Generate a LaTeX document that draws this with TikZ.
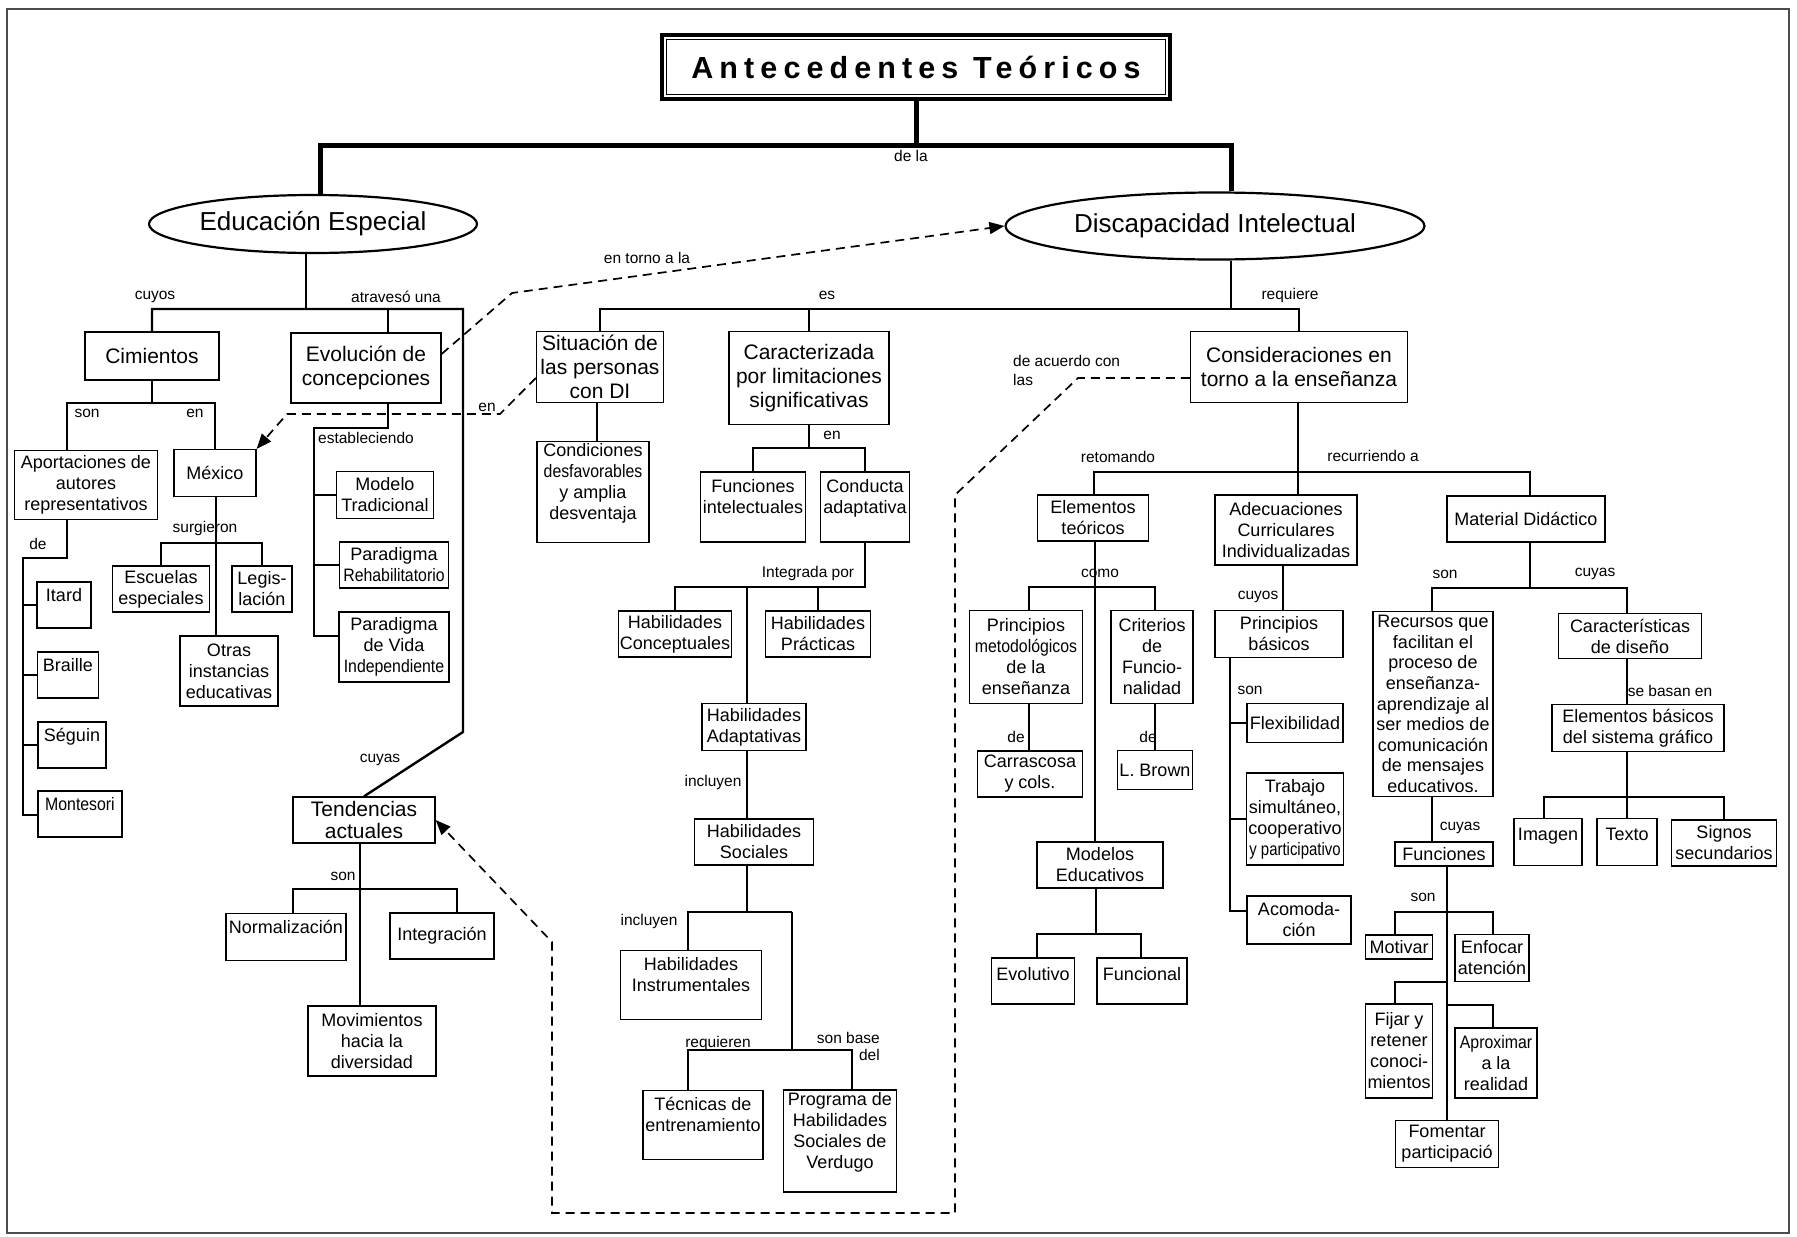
\documentclass[tikz,border=0pt]{standalone}
\usepackage{fontspec}
\setmainfont{Liberation Sans}
\newfontfamily\titlefont[LetterSpace=20]{Liberation Sans}
\newfontfamily\narrowfont[FakeStretch=0.88]{Liberation Sans}
\newfontfamily\narrowerfont[FakeStretch=0.83]{Liberation Sans}
\usetikzlibrary{arrows.meta,shapes.geometric}
\newcommand{\padline}{\\\mbox{}}
\newcommand{\padlinesm}{\\[-6pt]\mbox{}}
\begin{document}
\begin{tikzpicture}[x=1pt,y=-1pt,
  cbox/.style={draw, line width=1.3pt, inner sep=2pt, align=center, font=\fontsize{18}{21}\selectfont},
  bbox/.style={cbox, font=\fontsize{21}{24}\selectfont},
  ell/.style={draw, ellipse, line width=2.2pt, inner sep=0pt, font=\fontsize{26}{30}\selectfont},
  conn/.style={line width=2.4pt},
  thk/.style={line width=5pt},
  lbl/.style={inner sep=0pt, font=\fontsize{15.5}{18}\selectfont},
  dsh/.style={line width=1.7pt, dash pattern=on 9pt off 6pt},
  arr/.style={-{Triangle[length=15pt,width=12pt]}}]
\useasboundingbox (0,0) rectangle (1797,1237);
\draw[black!70, line width=1.2pt] (7,9) rectangle (1789,1233);

% title and main ellipses
\node[draw, line width=3.5pt, minimum width=508pt, minimum height=64pt, font=\titlefont\bfseries\fontsize{30.5}{33}\selectfont] (title) at (916,67) {Antecedentes Teóricos};
\draw[line width=1.3pt] ([shift={(6pt,-6pt)}]title.north west) rectangle ([shift={(-6pt,6pt)}]title.south east);
\node[ell, minimum width=328pt, minimum height=58pt] (es) at (313,224) {Educación Especial};
\node[ell, minimum width=419pt, minimum height=67pt] (di) at (1215,226) {Discapacidad Intelectual};

% upper boxes
\node[bbox, minimum width=134pt, minimum height=48pt] (cim) at (152,356) {Cimientos};
\node[bbox, minimum width=150pt, minimum height=70pt] (evo) at (366,368) {Evolución de\\concepciones};
\node[bbox, minimum width=127pt, minimum height=71pt] (sit) at (600,367) {Situación de\\las personas\\con DI};
\node[bbox, minimum width=160pt, minimum height=93pt] (car) at (809,378) {Caracterizada\\por limitaciones\\significativas};
\node[bbox, minimum width=217pt, minimum height=71pt] (cons) at (1299,367) {Consideraciones en\\torno a la enseñanza};
\node[bbox, minimum width=142pt, minimum height=46pt, inner sep=1pt, font=\fontsize{21}{22}\selectfont] (tend) at (364,820) {Tendencias\\actuales};

% left column
\node[cbox, minimum width=143pt, minimum height=69pt] (apo) at (86,485) {Aportaciones de\\autores\\representativos};
\node[cbox, minimum width=82pt, minimum height=47pt] (mex) at (215,473) {México};
\node[cbox, minimum width=54pt, minimum height=46pt] (itard) at (64,605) {Itard\padline};
\node[cbox, minimum width=61pt, minimum height=46pt] (braille) at (68,675) {Braille\padline};
\node[cbox, minimum width=68pt, minimum height=46pt] (seguin) at (72,745) {Séguin\padline};
\node[cbox, minimum width=84pt, minimum height=46pt] (monte) at (80,814) {{\narrowfont Montesori}\padline};
\node[cbox, minimum width=97pt, minimum height=46pt] (esc) at (161,589) {Escuelas\\especiales};
\node[cbox, minimum width=60pt, minimum height=46pt] (legis) at (262,589) {Legis-\\lación};
\node[cbox, minimum width=98pt, minimum height=70pt] (otras) at (229,671) {Otras\\instancias\\educativas};
\node[cbox, minimum width=97pt, minimum height=47pt] (modtrad) at (385,495) {Modelo\\Tradicional};
\node[cbox, minimum width=109pt, minimum height=46pt] (parreh) at (394,565) {Paradigma\\{\narrowfont Rehabilitatorio}};
\node[cbox, minimum width=110pt, minimum height=70pt] (parvida) at (394,647) {Paradigma\\de Vida\\{\narrowfont Independiente}};
\node[cbox, minimum width=120pt, minimum height=47pt] (norm) at (286,937) {Normalización\padline};
\node[cbox, minimum width=104pt, minimum height=46pt] (integ) at (442,936) {Integración};
\node[cbox, minimum width=128pt, minimum height=70pt] (movim) at (372,1041) {Movimientos\\hacia la\\diversidad};

% middle column
\node[cbox, minimum width=112pt, minimum height=100pt] (cond) at (593,492) {Condiciones\\{\narrowfont desfavorables}\\y amplia\\desventaja\padline};
\node[cbox, minimum width=105pt, minimum height=70pt] (funint) at (753,507) {Funciones\\intelectuales\padline};
\node[cbox, minimum width=89pt, minimum height=70pt] (condad) at (865,507) {Conducta\\adaptativa\padline};
\node[cbox, minimum width=113pt, minimum height=46pt, inner sep=1pt] (habcon) at (675,634) {Habilidades\\Conceptuales};
\node[cbox, minimum width=105pt, minimum height=46pt] (habprac) at (818,634) {Habilidades\\Prácticas};
\node[cbox, minimum width=104pt, minimum height=47pt] (habad) at (754,727) {Habilidades\\Adaptativas};
\node[cbox, minimum width=119pt, minimum height=46pt] (habsoc) at (754,842) {Habilidades\\Sociales};
\node[cbox, minimum width=141pt, minimum height=69pt] (habins) at (691,985) {Habilidades\\Instrumentales\padline};
\node[cbox, minimum width=120pt, minimum height=69pt] (tecn) at (703,1125) {Técnicas de\\entrenamiento\padline};
\node[cbox, minimum width=113pt, minimum height=102pt, inner sep=1pt] (prog) at (840,1141) {Programa de\\Habilidades\\Sociales de\\Verdugo\padline};

% right part
\node[cbox, minimum width=111pt, minimum height=46pt] (elem) at (1093,518) {Elementos\\teóricos};
\node[cbox, minimum width=142pt, minimum height=70pt] (adec) at (1286,530) {Adecuaciones\\Curriculares\\Individualizadas};
\node[cbox, minimum width=158pt, minimum height=46pt] (matdid) at (1526,519) {Material Didáctico};
\node[cbox, minimum width=113pt, minimum height=93pt] (pmet) at (1026,657) {Principios\\{\narrowfont metodológicos}\\de la\\enseñanza};
\node[cbox, minimum width=82pt, minimum height=93pt] (crit) at (1152,657) {Criterios\\de\\Funcio-\\nalidad};
\node[cbox, minimum width=105pt, minimum height=46pt] (carr) at (1030,774) {Carrascosa\\y cols.};
\node[cbox, minimum width=75pt, minimum height=39pt] (brown) at (1155,770) {L. Brown};
\node[cbox, minimum width=126pt, minimum height=46pt] (modedu) at (1100,865) {Modelos\\Educativos};
\node[cbox, minimum width=83pt, minimum height=46pt] (evol) at (1033,981) {Evolutivo\padlinesm};
\node[cbox, minimum width=90pt, minimum height=46pt] (func) at (1142,981) {Funcional\padlinesm};
\node[cbox, minimum width=128pt, minimum height=47pt] (pbas) at (1279,634) {Principios\\básicos};
\node[cbox, minimum width=96pt, minimum height=39pt] (flex) at (1295,723) {Flexibilidad};
\node[cbox, minimum width=97pt, minimum height=92pt, inner sep=1pt] (trab) at (1295,819) {Trabajo\\simultáneo,\\cooperativo\\{\narrowerfont y participativo}};
\node[cbox, minimum width=104pt, minimum height=48pt] (acom) at (1299,920) {Acomoda-\\ción};
\node[cbox, minimum width=120pt, minimum height=185pt, inner sep=0pt, font=\fontsize{18}{20.6}\selectfont] (recur) at (1433,704) {Recursos que\\facilitan el\\proceso de\\enseñanza-\\aprendizaje al\\ser medios de\\comunicación\\de mensajes\\educativos.};
\node[cbox, minimum width=143pt, minimum height=45pt] (caract) at (1630,636) {Características\\de diseño};
\node[cbox, minimum width=172pt, minimum height=47pt] (elembas) at (1638,728) {Elementos básicos\\del sistema gráfico};
\node[cbox, minimum width=68pt, minimum height=47pt] (imagen) at (1548,842) {Imagen\padlinesm};
\node[cbox, minimum width=60pt, minimum height=47pt] (texto) at (1627,842) {Texto\padlinesm};
\node[cbox, minimum width=105pt, minimum height=46pt] (signos) at (1724,843) {Signos\\secundarios};
\node[cbox, minimum width=98pt, minimum height=24pt, inner sep=0pt] (funciones) at (1444,854) {Funciones};
\node[cbox, minimum width=67pt, minimum height=24pt, inner sep=0pt] (motivar) at (1399,947) {Motivar};
\node[cbox, minimum width=74pt, minimum height=47pt, inner sep=1pt] (enfocar) at (1492,958) {Enfocar\\atención};
\node[cbox, minimum width=67pt, minimum height=94pt, inner sep=1pt] (fijar) at (1399,1051) {Fijar y\\retener\\conoci-\\mientos};
\node[cbox, minimum width=82pt, minimum height=70pt, inner sep=1pt] (aprox) at (1496,1063) {{\narrowfont Aproximar}\\a la\\realidad};
\node[cbox, minimum width=103pt, minimum height=47pt] (fomentar) at (1447,1144) {Fomentar\\participació};

% labels
\node[lbl] (l-dela) at (911,156) {de la};
\node[lbl] (l-cuyos1) at (155,297) {cuyos};
\node[lbl] (l-atrav) at (396,297) {atravesó una};
\node[lbl] (l-torno) at (647,258) {en torno a la};
\node[lbl] (l-es) at (827,295) {es};
\node[lbl] (l-req) at (1290,295) {requiere};
\node[lbl, align=left, anchor=north west, font=\fontsize{15.5}{19}\selectfont] (l-acuerdo) at (1013,355) {de acuerdo con\\las};
\node[lbl] (l-son1) at (87,413) {son};
\node[lbl] (l-en1) at (195,413) {en};
\node[lbl] (l-de1) at (38,544) {de};
\node[lbl] (l-surg) at (205,528) {surgieron};
\node[lbl, anchor=west] (l-estab) at (318,438) {estableciendo};
\node[lbl] (l-en2) at (487,407) {en};
\node[lbl] (l-cuyas1) at (380,760) {cuyas};
\node[lbl] (l-son2) at (343,876) {son};
\node[lbl] (l-en3) at (832,435) {en};
\node[lbl] (l-integ) at (808,573) {Integrada por};
\node[lbl] (l-incl1) at (713,782) {incluyen};
\node[lbl] (l-incl2) at (649,921) {incluyen};
\node[lbl] (l-req2) at (718,1043) {requieren};
\node[lbl, align=right, anchor=east, font=\fontsize{15.5}{17}\selectfont] (l-base) at (880,1046) {son base\\del};
\node[lbl] (l-retom) at (1118,457) {retomando};
\node[lbl] (l-recurr) at (1373,456) {recurriendo a};
\node[lbl] (l-como) at (1100,573) {como};
\node[lbl] (l-de2) at (1016,737) {de};
\node[lbl] (l-de3) at (1148,737) {de};
\node[lbl] (l-cuyos2) at (1258,597) {cuyos};
\node[lbl] (l-son3) at (1250,690) {son};
\node[lbl] (l-son4) at (1445,574) {son};
\node[lbl] (l-cuyas2) at (1595,574) {cuyas};
\node[lbl] (l-basan) at (1670,691) {se basan en};
\node[lbl] (l-cuyas3) at (1460,828) {cuyas};
\node[lbl] (l-son5) at (1423,897) {son};

% top thick connectors
\coordinate (tl) at (320,145);
\coordinate (tr) at (1231,145);
\draw[thk] (title.south) -- (title.south |- tl);
\draw[thk] (tl |- es.north) -- (tl) -- (tr) -- (tr |- di.north);

% Educacion Especial branch
\coordinate (esj) at (306,309);
\coordinate (esl) at (152,309);
\coordinate (esr) at (463,309);
\coordinate (esb) at (463,732);
\coordinate (evt) at (388,309);
\draw[conn] (esj |- es.south) -- (esj);
\draw[conn] (cim.north) -- (esl) -- (esr) -- (esb) -- (tend.north);
\draw[conn] (evt) -- (evt |- evo.north);

\coordinate (cl) at (67,403);
\coordinate (cr) at (215,403);
\draw[conn] (cim.south) -- (cim.south |- cl);
\draw[conn] (cl |- apo.north) -- (cl) -- (cr) -- (mex.north);
\coordinate (ad1) at (67,558);
\coordinate (ad2) at (23,558);
\coordinate (ad3) at (23,815);
\draw[conn] (ad1 |- apo.south) -- (ad1) -- (ad2) -- (ad3) -- (ad3 -| monte.west);
\foreach \n in {itard,braille,seguin} \draw[conn] (ad2 |- \n.west) -- (\n.west);
\coordinate (mj) at (216,543);
\draw[conn] (mj |- mex.south) -- (mj |- otras.north);
\draw[conn] (esc.north) -- (esc.north |- mj) -- (legis.north |- mj) -- (legis.north);

\coordinate (eb1) at (388,428);
\coordinate (eb2) at (314,428);
\coordinate (eb3) at (314,636);
\draw[conn] (eb1 |- evo.south) -- (eb1) -- (eb2) -- (eb3) -- (eb3 -| parvida.west);
\draw[conn] (eb2 |- modtrad.west) -- (modtrad.west);
\draw[conn] (eb2 |- parreh.west) -- (parreh.west);

\coordinate (tj) at (360,889);
\coordinate (tjl) at (293,889);
\coordinate (tjr) at (457,889);
\draw[conn] (tj |- tend.south) -- (tj |- movim.north);
\draw[conn] (tjl |- norm.north) -- (tjl) -- (tjr) -- (tjr |- integ.north);

% Discapacidad branch
\coordinate (dj) at (1231,309);
\draw[conn] (dj |- di.south) -- (dj);
\draw[conn] (sit.north) -- (sit.north |- dj) -- (cons.north |- dj) -- (cons.north);
\draw[conn] (car.north |- dj) -- (car.north);
\coordinate (sc) at (597,420);
\draw[conn] (sc |- sit.south) -- (sc |- cond.north);

\coordinate (cj2) at (809,448);
\draw[conn] (car.south) -- (cj2);
\draw[conn] (funint.north) -- (funint.north |- cj2) -- (condad.north |- cj2) -- (condad.north);
\coordinate (ij) at (865,587);
\coordinate (iv) at (747,587);
\draw[conn] (condad.south) -- (ij) -- (habcon.north |- ij) -- (habcon.north);
\draw[conn] (habprac.north |- ij) -- (habprac.north);
\draw[conn] (iv) -- (iv |- habad.north);
\draw[conn] (iv |- habad.south) -- (iv |- habsoc.north);
\coordinate (sj) at (747,912);
\coordinate (sl) at (688,912);
\coordinate (sr) at (792,912);
\draw[conn] (iv |- habsoc.south) -- (sj);
\draw[conn] (sl |- habins.north) -- (sl) -- (sr);
\coordinate (rj) at (792,1050);
\coordinate (rl) at (688,1050);
\coordinate (rr) at (852,1050);
\draw[conn] (sr) -- (rj);
\draw[conn] (rl |- tecn.north) -- (rl) -- (rr) -- (rr |- prog.north);

% Consideraciones
\coordinate (kj) at (1298,472);
\coordinate (kl) at (1094,472);
\coordinate (kr) at (1530,472);
\draw[conn] (kj |- cons.south) -- (kj |- adec.north);
\draw[conn] (kl |- elem.north) -- (kl) -- (kr) -- (kr |- matdid.north);
\coordinate (ej) at (1095,587);
\coordinate (el) at (1029,587);
\coordinate (er) at (1155,587);
\draw[conn] (ej |- elem.south) -- (ej |- modedu.north);
\draw[conn] (el |- pmet.north) -- (el) -- (er) -- (er |- crit.north);
\draw[conn] (el |- pmet.south) -- (el |- carr.north);
\draw[conn] (er |- crit.south) -- (er |- brown.north);
\coordinate (mm) at (1096,934);
\coordinate (ml) at (1037,934);
\coordinate (mr) at (1141,934);
\draw[conn] (mm |- modedu.south) -- (mm);
\draw[conn] (ml |- evol.north) -- (ml) -- (mr) -- (mr |- func.north);

\coordinate (aj) at (1283,590);
\draw[conn] (aj |- adec.south) -- (aj |- pbas.north);
\coordinate (pv) at (1230,911);
\draw[conn] (pv |- pbas.south) -- (pv) -- (pv -| acom.west);
\draw[conn] (pv |- flex.west) -- (flex.west);
\draw[conn] (pv |- trab.west) -- (trab.west);

\coordinate (mdj) at (1530,588);
\coordinate (mdl) at (1432,588);
\coordinate (mdr) at (1627,588);
\draw[conn] (mdj |- matdid.south) -- (mdj);
\draw[conn] (mdl |- recur.north) -- (mdl) -- (mdr) -- (mdr |- caract.north);
\draw[conn] (mdr |- caract.south) -- (mdr |- elembas.north);
\coordinate (ebj) at (1627,797);
\coordinate (ebl) at (1544,797);
\coordinate (ebr) at (1724,797);
\draw[conn] (ebj |- elembas.south) -- (ebj) -- (ebj |- texto.north);
\draw[conn] (ebl |- imagen.north) -- (ebl) -- (ebr) -- (ebr |- signos.north);
\draw[conn] (mdl |- recur.south) -- (mdl |- funciones.north);
\coordinate (fv) at (1447,912);
\coordinate (fl) at (1395,912);
\coordinate (fr) at (1493,912);
\draw[conn] (fv |- funciones.south) -- (fv |- fomentar.north);
\draw[conn] (fl |- motivar.north) -- (fl) -- (fr) -- (fr |- enfocar.north);
\coordinate (f2) at (1447,982);
\coordinate (f2l) at (1395,982);
\draw[conn] (f2) -- (f2l) -- (f2l |- fijar.north);
\coordinate (f3) at (1447,1005);
\coordinate (f3r) at (1493,1005);
\draw[conn] (f3) -- (f3r) -- (f3r |- aprox.north);

% dashed cross links
\coordinate (d1a) at (512,293);
\draw[dsh, arr] ([yshift=14pt]evo.east) -- (d1a) -- (di.west);
\coordinate (d2a) at (500,414);
\coordinate (d2b) at (287,414);
\draw[dsh, arr] ([yshift=-11pt]sit.west) -- (d2a) -- (d2b) -- (mex.north east);
\coordinate (d3a) at (1078,378);
\coordinate (d3b) at (955,495);
\coordinate (d3c) at (955,1213);
\coordinate (d3d) at (552,1213);
\coordinate (d3e) at (552,942);
\draw[dsh, arr] ([yshift=-11pt]cons.west) -- (d3a) -- (d3b) -- (d3c) -- (d3d) -- (d3e) -- (tend.east);
\end{tikzpicture}
\end{document}
